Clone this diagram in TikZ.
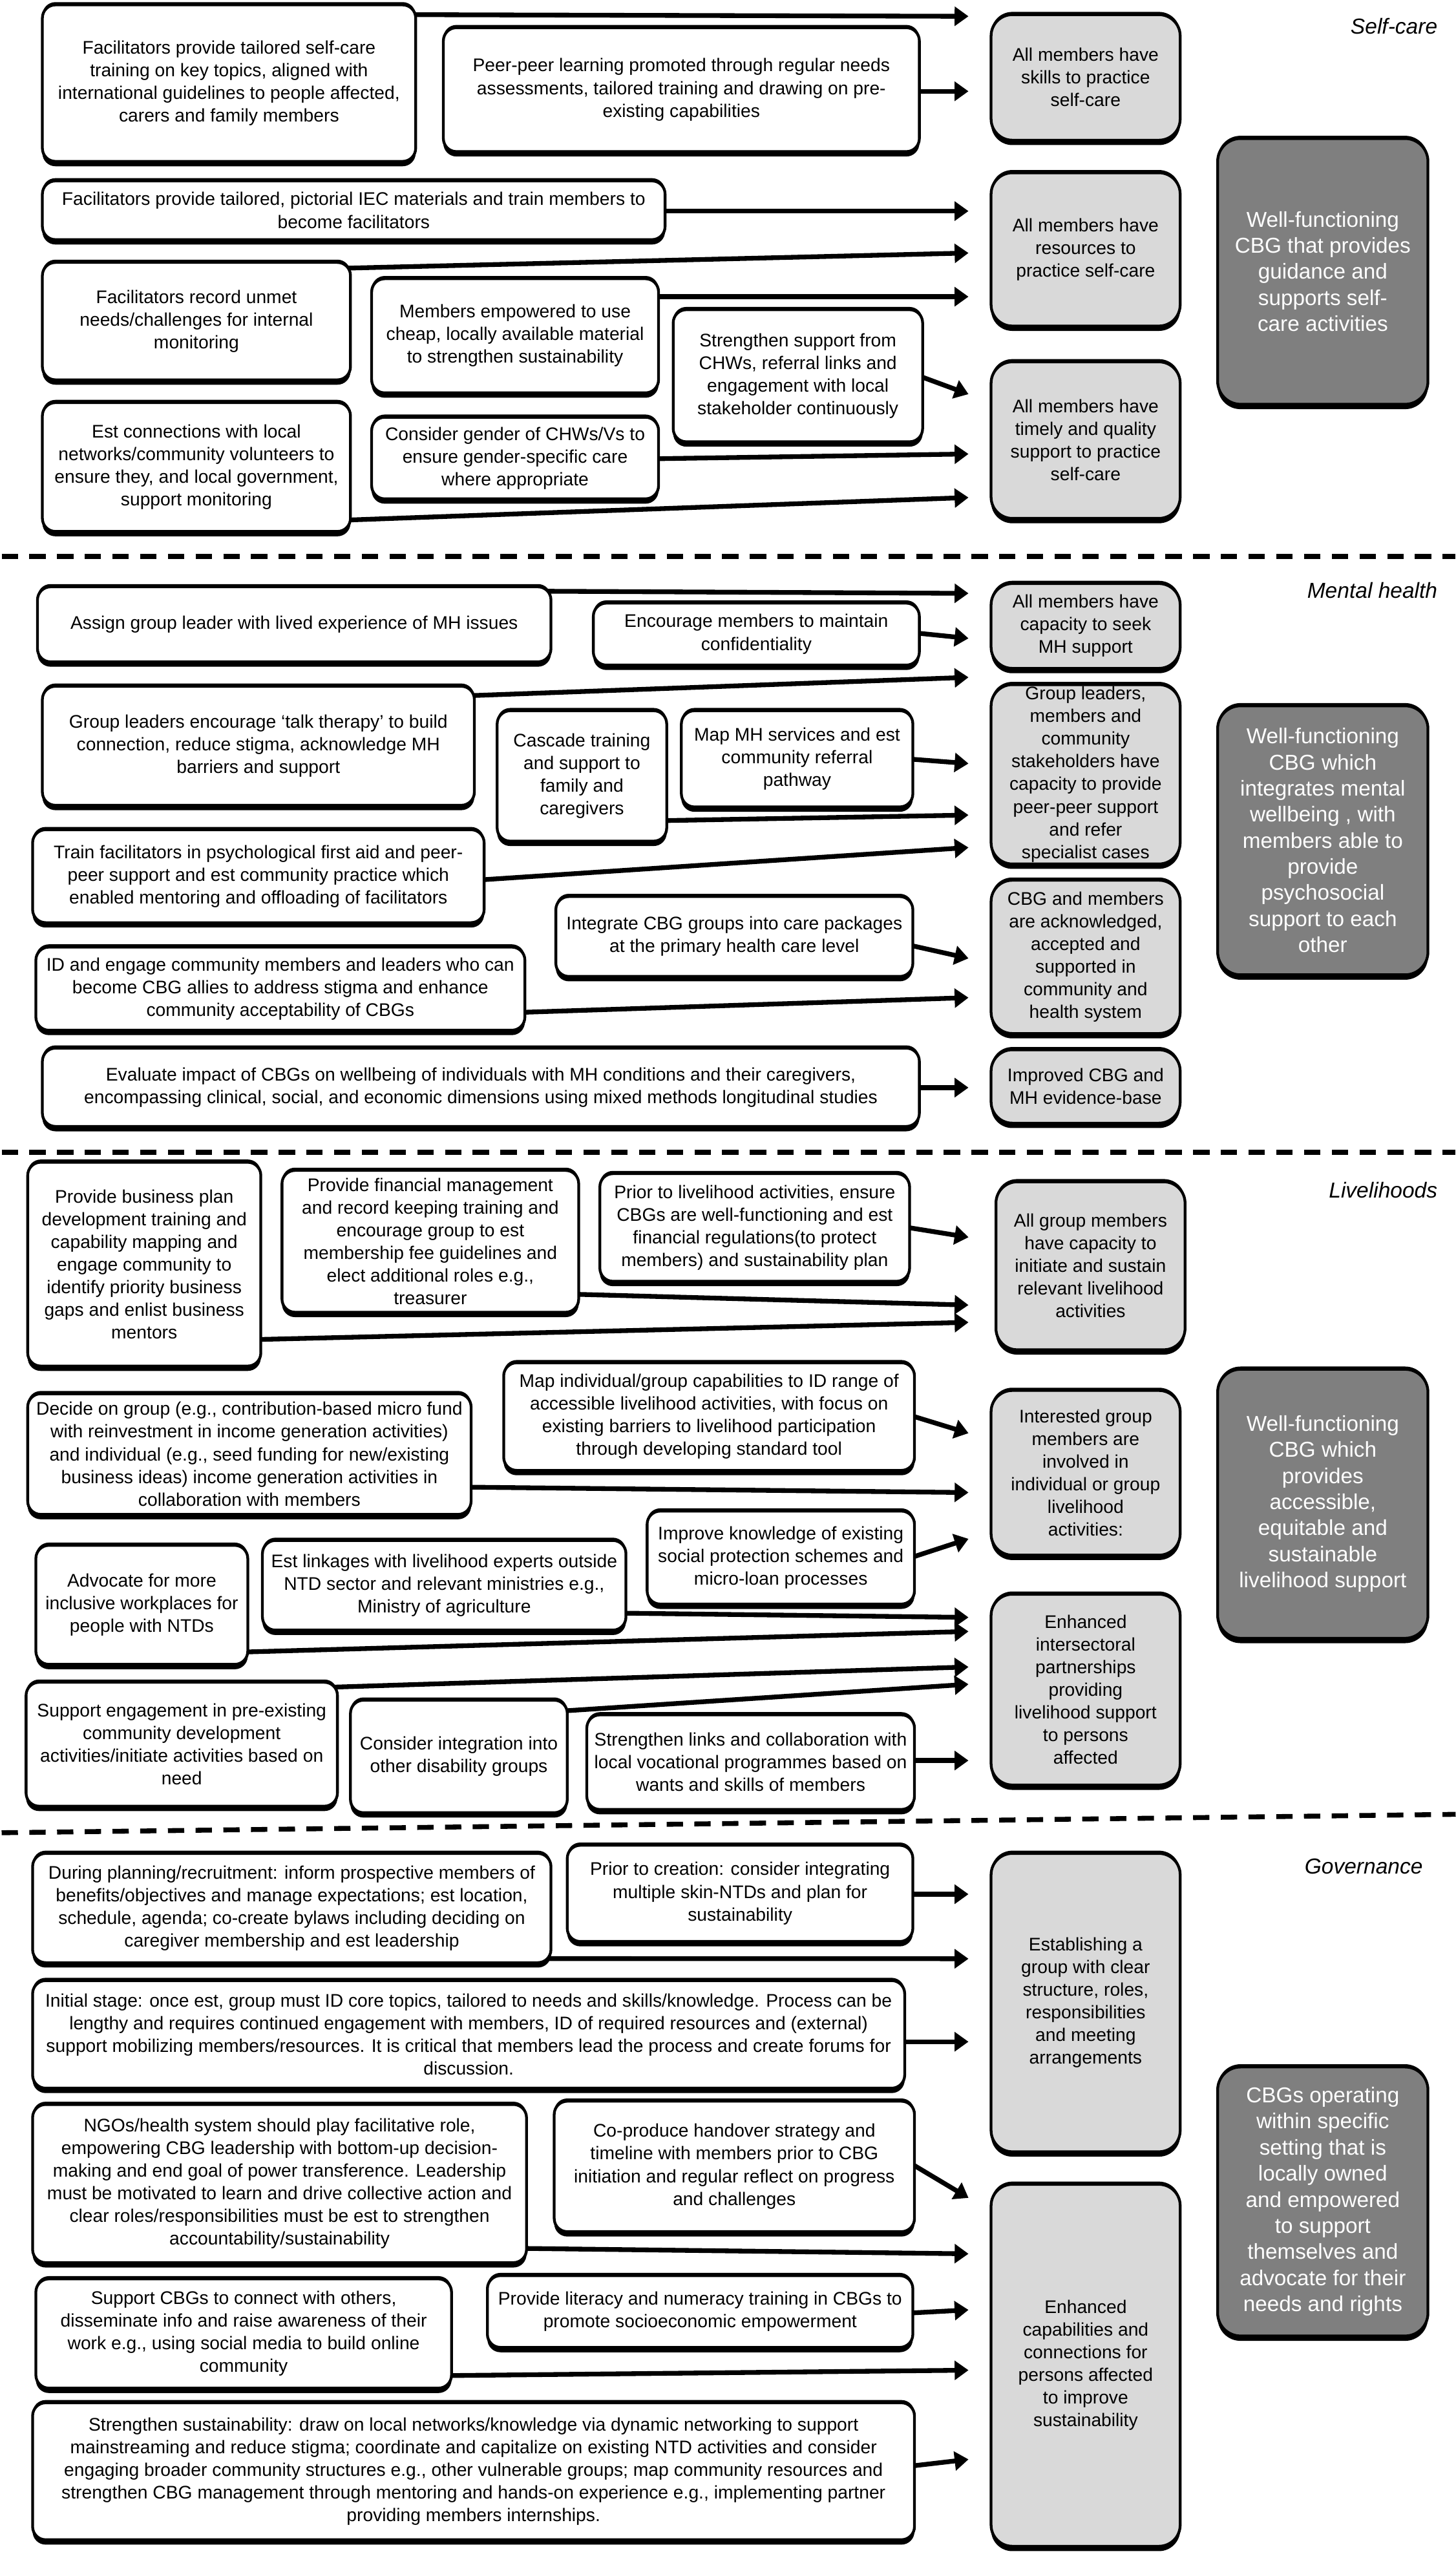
\documentclass[tikz,border=0pt]{standalone}
\usepackage{fontspec}
\setmainfont{Liberation Sans}
\usetikzlibrary{arrows.meta,shadows,calc}
\definecolor{lightg}{HTML}{D9D9D9}
\definecolor{darkg}{HTML}{7F7F7F}
\pgfdeclarelayer{bg}
\pgfsetlayers{bg,main}
\newcommand\bxn[7]{%
  \pgfmathsetmacro\bxw{#5-#3}\pgfmathsetmacro\bxh{#6-#4}%
  \pgfmathsetmacro\bxcx{(#3+#5)/2}\pgfmathsetmacro\bxcy{(#4+#6)/2}%
  \node[#1, minimum width=\bxw pt, minimum height=\bxh pt] (#2) at (\bxcx,\bxcy) {#7};}
\begin{document}
\begin{tikzpicture}[x=1pt,y=-1pt,
  bx/.style={draw=black, line width=1.7pt, align=center, inner sep=1pt,
    general shadow={fill=black, shadow yshift=-3pt},
    general shadow={fill=black, shadow yshift=1.7pt}},
  wbox/.style={bx, fill=white, rounded corners=8pt, font=\fontsize{11.2}{13.9}\selectfont},
  gbox/.style={bx, fill=lightg, rounded corners=13pt, font=\fontsize{11.2}{13.9}\selectfont},
  dbox/.style={bx, fill=darkg, text=white, rounded corners=14pt, font=\fontsize{13.2}{16}\selectfont},
  lbl/.style={font=\fontsize{13.3}{16}\selectfont\itshape, anchor=east, inner sep=0pt},
  arr/.style={line width=2.9pt, -{Triangle[length=8.5pt,width=11.5pt]}},
  sepline/.style={line width=3pt, dash pattern=on 10pt off 7pt}]
\useasboundingbox (0,0) rectangle (893,1568);

% ---------------- Self-care
\node[lbl] (Lsc) at (882,16) {Self-care};
\bxn{wbox}{A1}{26}{3}{255}{99}{Facilitators provide  tailored self-care\\training on key topics, aligned with\\international guidelines to people affected,\\carers and family members}
\bxn{wbox}{A2}{272}{17}{564}{93}{Peer-peer learning promoted through regular needs\\assessments, tailored training and drawing on pre-\\existing capabilities}
\bxn{gbox}{G1}{608}{9}{724}{86}{All members have\\skills to practice\\self-care}
\bxn{wbox}{A3}{26}{111}{408}{147}{Facilitators provide tailored, pictorial IEC materials and train members to\\become facilitators}
\bxn{gbox}{G2}{608}{106}{724}{200}{All members have\\resources to\\practice self-care}
\bxn{dbox}{D1}{747}{85}{876}{248}{Well-functioning\\CBG that provides\\guidance and\\supports self-\\care activities}
\bxn{wbox}{A4}{26}{161}{215}{233}{Facilitators record unmet\\needs/challenges for internal\\monitoring}
\bxn{wbox}{A5}{228}{171}{404}{241}{Members empowered to use\\cheap, locally available material\\to strengthen sustainability}
\bxn{wbox}{A6}{413}{190}{566}{271}{Strengthen support from\\CHWs, referral links and\\engagement with local\\stakeholder continuously}
\bxn{gbox}{G3}{608}{222}{724}{318}{All members have\\timely and quality\\support to practice\\self-care}
\bxn{wbox}{A7}{26}{247}{215}{326}{Est connections with local\\networks/community volunteers to\\ensure they, and local government,\\support monitoring}
\bxn{wbox}{A8}{228}{256}{404}{306}{Consider gender of CHWs/Vs to\\ensure gender-specific care\\where appropriate}

\draw[sepline] (1,341.3) -- (893,341.3);

% ---------------- Mental health
\node[lbl] (Lmh) at (882,362) {Mental health};
\bxn{wbox}{B1}{23}{360}{338}{406}{Assign group leader with lived experience of MH issues}
\bxn{wbox}{B2}{364}{370}{564}{408}{Encourage members to maintain\\confidentiality}
\bxn{gbox}{G4}{608}{358}{724}{410}{All members have\\capacity to seek\\MH support}
\bxn{wbox}{B3}{26}{421}{291}{494}{Group leaders encourage ‘talk therapy’ to build\\connection, reduce stigma, acknowledge MH\\barriers and support}
\bxn{wbox}{B4}{305}{436}{409}{516}{Cascade training\\and support to\\family and\\caregivers}
\bxn{wbox}{B5}{418}{436}{560}{495}{Map MH services and est\\community referral\\pathway}
\bxn{gbox}{G5}{608}{420}{724}{530}{Group leaders,\\members and\\community\\stakeholders have\\capacity to provide\\peer-peer support\\and refer\\specialist cases}
\bxn{wbox}{B6}{20}{509}{297}{566}{Train facilitators in psychological first aid and peer-\\peer support and est community practice which\\enabled mentoring and offloading of facilitators}
\bxn{dbox}{D2}{747}{433}{876}{598}{Well-functioning\\CBG which\\integrates mental\\wellbeing , with\\members able to\\provide\\psychosocial\\support to each\\other}
\bxn{wbox}{B7}{341}{550}{560}{599}{Integrate CBG groups into care packages\\at the primary health care level}
\bxn{gbox}{G6}{608}{540}{724}{634}{CBG and members\\are acknowledged,\\accepted and\\supported in\\community and\\health system}
\bxn{wbox}{B8}{22}{581}{322}{632}{ID and engage community members and leaders who can\\become CBG allies to address stigma and enhance\\community acceptability of CBGs}
\bxn{wbox}{B9}{26}{643}{564}{691}{Evaluate impact of CBGs on wellbeing of individuals with MH conditions and their caregivers,\\encompassing clinical, social, and economic dimensions using mixed methods longitudinal studies}
\bxn{gbox}{G7}{608}{644}{724}{689}{Improved CBG and\\MH evidence-base}

\draw[sepline] (1,706.8) -- (893,706.8);

% ---------------- Livelihoods
\node[lbl] (Lli) at (882,730) {Livelihoods};
\bxn{wbox}{C1}{17}{713}{160}{838}{Provide business plan\\development training and\\capability mapping and\\engage community to\\identify priority business\\gaps and enlist business\\mentors}
\bxn{wbox}{C2}{173}{718}{355}{805}{Provide financial management\\and record keeping training and\\encourage group to est\\membership fee guidelines and\\elect additional roles e.g.,\\treasurer}
\bxn{wbox}{C3}{368}{720}{558}{786}{Prior to livelihood activities, ensure\\CBGs are well-functioning and est\\financial regulations(to protect\\members) and sustainability plan}
\bxn{gbox}{G8}{611}{725}{727}{828}{All group members\\have capacity to\\initiate and sustain\\relevant livelihood\\activities}
\bxn{wbox}{C4}{309}{836}{561}{902}{Map individual/group capabilities to ID range of\\accessible livelihood activities, with focus on\\existing barriers to livelihood participation\\through developing standard tool}
\bxn{wbox}{C5}{17}{855}{289}{929}{Decide on group (e.g., contribution-based micro fund\\with reinvestment in income generation activities)\\and individual (e.g., seed funding for new/existing\\business ideas) income generation activities in\\collaboration with members}
\bxn{gbox}{G9}{608}{853}{724}{954}{Interested group\\members are\\involved in\\individual or group\\livelihood\\activities:}
\bxn{dbox}{D3}{747}{840}{876}{1005}{Well-functioning\\CBG which\\provides\\accessible,\\equitable and\\sustainable\\livelihood support}
\bxn{wbox}{C6}{397}{927}{561}{984}{Improve knowledge of existing\\social protection schemes and\\micro-loan processes}
\bxn{wbox}{C7}{161}{945}{384}{1000}{Est linkages with livelihood experts outside\\NTD sector and relevant ministries e.g.,\\Ministry of agriculture}
\bxn{wbox}{C8}{22}{948}{152}{1021}{Advocate for more\\inclusive workplaces for\\people with NTDs}
\bxn{gbox}{G10}{608}{978}{724}{1095}{Enhanced\\intersectoral\\partnerships\\providing\\livelihood support\\to persons\\affected}
\bxn{wbox}{C9}{16}{1032}{207}{1108}{Support engagement in pre-existing\\community development\\activities/initiate activities based on\\need}
\bxn{wbox}{C10}{215}{1043}{348}{1112}{Consider integration into\\other disability groups}
\bxn{wbox}{C11}{360}{1052}{561}{1110}{Strengthen links and collaboration with\\local vocational programmes based on\\wants and skills of members}

\draw[sepline] (1,1124.3) -- (893,1113);

% ---------------- Governance
\node[lbl] (Lgo) at (873,1145) {Governance};
\bxn{wbox}{E1}{20}{1137}{338}{1204}{During planning/recruitment: inform prospective members of\\benefits/objectives and manage expectations; est location,\\schedule, agenda; co-create bylaws including deciding on\\caregiver membership and est leadership}
\bxn{wbox}{E2}{348}{1132}{560}{1191}{Prior to creation: consider integrating\\multiple skin-NTDs and plan for\\sustainability}
\bxn{gbox}{G11}{608}{1137}{724}{1320}{Establishing a\\group with clear\\structure, roles,\\responsibilities\\and meeting\\arrangements}
\bxn{wbox}{E3}{20}{1215}{555}{1281}{Initial stage: once est, group must ID core topics, tailored to needs and skills/knowledge. Process can be\\lengthy and requires continued engagement with members, ID of required resources and (external)\\support mobilizing members/resources. It is critical that members lead the process and create forums for\\discussion.}
\bxn{wbox}{E4}{20}{1291}{323}{1388}{NGOs/health system should play facilitative role,\\empowering CBG leadership with bottom-up decision-\\making and end goal of power transference. Leadership\\must be motivated to learn and drive collective action and\\clear roles/responsibilities must be est to strengthen\\accountability/sustainability}
\bxn{wbox}{E5}{340}{1289}{561}{1369}{Co-produce handover strategy and\\timeline with members prior to CBG\\initiation and  regular reflect on progress\\and challenges}
\bxn{dbox}{D4}{747}{1268}{876}{1433}{CBGs operating\\within specific\\setting that is\\locally  owned\\and empowered\\to support\\themselves and\\advocate for their\\needs and rights}
\bxn{gbox}{G12}{608}{1340}{724}{1562}{Enhanced\\capabilities and\\connections for\\persons affected\\to improve\\sustainability}
\bxn{wbox}{E6}{22}{1398}{277}{1465}{Support CBGs to connect with others,\\disseminate info and raise awareness of their\\work e.g., using social media to build online\\community}
\bxn{wbox}{E7}{299}{1396}{560}{1440}{Provide literacy and numeracy training in CBGs to\\promote socioeconomic empowerment}
\bxn{wbox}{E8}{20}{1474}{561}{1558}{Strengthen sustainability: draw on local networks/knowledge via dynamic networking  to support\\mainstreaming and reduce stigma; coordinate and capitalize on existing NTD activities and consider\\engaging broader community structures e.g., other vulnerable groups; map community resources and\\strengthen CBG management through mentoring and hands-on experience e.g., implementing partner\\providing members internships.}

% ---------------- connectors
\begin{pgfonlayer}{bg}
\draw[arr] ($(A1.east)+(-3,-42)$) -- ($(G1.west)+(-13,-37.5)$);
\draw[arr] ($(A2.east)+(-2,1)$) -- ($(G1.west)+(-13,8.5)$);
\draw[arr] ($(A3.east)+(-2,0.5)$) -- ($(G2.west)+(-13,-23.5)$);
\draw[arr] ($(A4.east)+(-3,-32.5)$) -- ($(G2.west)+(-13,2.2)$);
\draw[arr] ($(A5.east)+(-2,-24)$) -- ($(G2.west)+(-13,29)$);
\draw[arr] ($(A6.east)+(-2,0.5)$) -- ($(G3.west)+(-13,-28.2)$);
\draw[arr] ($(A8.east)+(-2,0.4)$) -- ($(G3.west)+(-13,8.5)$);
\draw[arr] ($(A7.east)+(-2,32.5)$) -- ($(G3.west)+(-13,35.2)$);

\draw[arr] ($(B1.east)+(-3,-20.3)$) -- ($(G4.west)+(-13,-20)$);
\draw[arr] ($(B2.east)+(-2,-0.6)$) -- ($(G4.west)+(-13,7.6)$);
\draw[arr] ($(B3.east)+(-2,-30.8)$) -- ($(G5.west)+(-13,-59.5)$);
\draw[arr] ($(B5.east)+(-2,0.2)$) -- ($(G5.west)+(-13,-6.6)$);
\draw[arr] ($(B4.east)+(-2,27.4)$) -- ($(G5.west)+(-13,25)$);
\draw[arr] ($(B6.east)+(-2,2.2)$) -- ($(G5.west)+(-13,44.9)$);
\draw[arr] ($(B7.east)+(-2,5.5)$) -- ($(G6.west)+(-13,0.9)$);
\draw[arr] ($(B8.east)+(-2,14.5)$) -- ($(G6.west)+(-13,25)$);
\draw[arr] ($(B9.east)+(-2,0.2)$) -- ($(G7.west)+(-13,0.7)$);

\draw[arr] ($(C3.east)+(-2,0)$) -- ($(G8.west)+(-16,-17.5)$);
\draw[arr] ($(C2.east)+(-2,32.5)$) -- ($(G8.west)+(-16,24.1)$);
\draw[arr] ($(C1.east)+(-2,46.2)$) -- ($(G8.west)+(-16,34.7)$);
\draw[arr] ($(C4.east)+(-2,-0.3)$) -- ($(G9.west)+(-13,-24.3)$);
\draw[arr] ($(C5.east)+(-2,20.3)$) -- ($(G9.west)+(-13,12.1)$);
\draw[arr] ($(C6.east)+(-2,-0.3)$) -- ($(G9.west)+(-13,40.5)$);
\draw[arr] ($(C7.east)+(-2,17.1)$) -- ($(G10.west)+(-13,-44.3)$);
\draw[arr] ($(C8.east)+(-2,28.9)$) -- ($(G10.west)+(-13,-35.7)$);
\draw[arr] ($(C9.east)+(-4,-35)$) -- ($(G10.west)+(-13,-13.9)$);
\draw[arr] ($(C10.east)+(-2,-28)$) -- ($(G10.west)+(-13,-3.3)$);
\draw[arr] ($(C11.east)+(-2,-1)$) -- ($(G10.west)+(-13,43.5)$);

\draw[arr] ($(E2.east)+(-2,0.5)$) -- ($(G11.west)+(-13,-66.5)$);
\draw[arr] ($(E1.east)+(-3,31)$) -- ($(G11.west)+(-13,-26.9)$);
\draw[arr] ($(E3.east)+(-2,4.5)$) -- ($(G11.west)+(-13,24)$);
\draw[arr] ($(E5.east)+(-2,-1.2)$) -- ($(G12.west)+(-13,-102.7)$);
\draw[arr] ($(E4.east)+(-2,39.8)$) -- ($(G12.west)+(-13,-68.4)$);
\draw[arr] ($(E7.east)+(-2,0.9)$) -- ($(G12.west)+(-13,-34)$);
\draw[arr] ($(E6.east)+(-2,25.8)$) -- ($(G12.west)+(-13,3)$);
\draw[arr] ($(E8.east)+(-2,-3.3)$) -- ($(G12.west)+(-13,57.7)$);
\end{pgfonlayer}
\end{tikzpicture}
\end{document}
